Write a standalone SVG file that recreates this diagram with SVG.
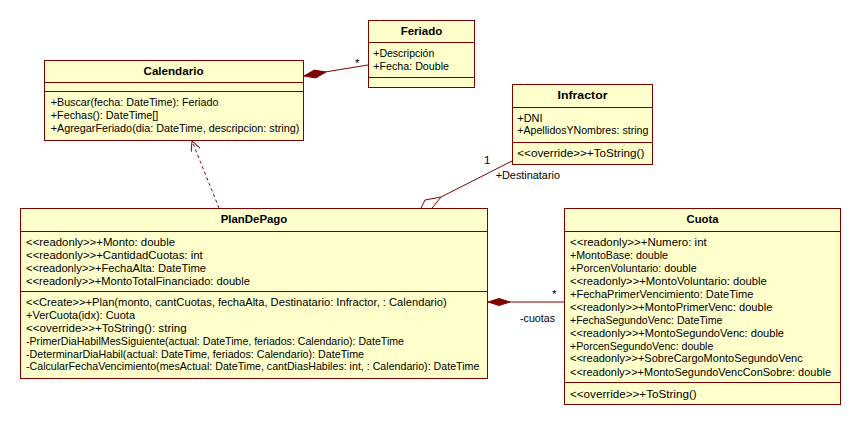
<svg xmlns="http://www.w3.org/2000/svg" width="856" height="426" viewBox="0 0 856 426">
<style>
.box{fill:#FFFFCC;stroke:#800000;stroke-width:1}
.div{stroke:#800000;stroke-width:1}
.t{font-family:"Liberation Sans",Arial,sans-serif;font-size:11.5px;fill:#000}
.b{font-family:"Liberation Sans",Arial,sans-serif;font-size:11.5px;font-weight:bold;fill:#000;text-anchor:middle}
.ln{stroke:#800000;stroke-width:1;fill:none}
.dash{stroke:#800000;stroke-width:1;fill:none;stroke-dasharray:3,3}
.fd{fill:#800000;stroke:#800000;stroke-width:1}
</style>
<defs>
<marker id="open" viewBox="0 0 10 10" refX="10" refY="5" markerWidth="10" markerHeight="10" markerUnits="userSpaceOnUse" orient="auto">
<path d="M0,0 L10,5 L0,10" fill="none" stroke="#800000" stroke-width="1"/>
</marker>
</defs>
<rect width="856" height="426" fill="#fff"/>
<g id="connectors">
<line class="ln" x1="325" y1="72" x2="368" y2="65"/>
<polygon class="fd" points="304,76 314.3,70.1 326,72 315.7,77.9"/>
<text class="t" x="355" y="67">*</text>
<line class="dash" x1="219" y1="208" x2="192" y2="141" marker-end="url(#open)"/>
<line class="ln" x1="512" y1="161" x2="441" y2="197"/>
<polygon class="ln" points="441,197 425,200 419,212 429,212"/>
<text class="t" x="484" y="164">1</text>
<text class="t" x="495.7" y="179" textLength="64.3" lengthAdjust="spacingAndGlyphs">+Destinatario</text>
<line class="ln" x1="509" y1="302" x2="564" y2="302"/>
<polygon class="fd" points="488,302 499,298.5 510,302 499,305.5"/>
<text class="t" x="552" y="298">*</text>
<text class="t" x="520" y="322" textLength="35" lengthAdjust="spacingAndGlyphs">-cuotas</text>
</g>
<g id="Calendario">
<rect class="box" x="44.5" y="60.5" width="259" height="80"/>
<line class="div" x1="44.5" y1="82.5" x2="303.5" y2="82.5"/>
<line class="div" x1="44.5" y1="91.5" x2="303.5" y2="91.5"/>
<text class="b" x="173.5" y="75" textLength="60" lengthAdjust="spacingAndGlyphs">Calendario</text>
<text class="t" x="50.7" y="105.5" textLength="167.7" lengthAdjust="spacingAndGlyphs">+Buscar(fecha: DateTime): Feriado</text>
<text class="t" x="50.7" y="118.5" textLength="107.7" lengthAdjust="spacingAndGlyphs">+Fechas(): DateTime[]</text>
<text class="t" x="50.7" y="131.5" textLength="248.7" lengthAdjust="spacingAndGlyphs">+AgregarFeriado(dia: DateTime, descripcion: string)</text>
</g>
<g id="Feriado">
<rect class="box" x="368.5" y="20.5" width="106" height="67"/>
<line class="div" x1="368.5" y1="42.5" x2="474.5" y2="42.5"/>
<line class="div" x1="368.5" y1="77.5" x2="474.5" y2="77.5"/>
<text class="b" x="421.5" y="35" textLength="41.7" lengthAdjust="spacingAndGlyphs">Feriado</text>
<text class="t" x="373.3" y="56.5" textLength="61" lengthAdjust="spacingAndGlyphs">+Descripción</text>
<text class="t" x="373.3" y="69.5" textLength="75.7" lengthAdjust="spacingAndGlyphs">+Fecha: Double</text>
</g>
<g id="Infractor">
<rect class="box" x="512.5" y="84.5" width="140" height="80"/>
<line class="div" x1="512.5" y1="107.5" x2="652.5" y2="107.5"/>
<line class="div" x1="512.5" y1="142.5" x2="652.5" y2="142.5"/>
<text class="b" x="582.5" y="99" textLength="50" lengthAdjust="spacingAndGlyphs">Infractor</text>
<text class="t" x="517.3" y="121.5" textLength="25.3" lengthAdjust="spacingAndGlyphs">+DNI</text>
<text class="t" x="517.3" y="134" textLength="131" lengthAdjust="spacingAndGlyphs">+ApellidosYNombres: string</text>
<text class="t" x="517.3" y="156.5" textLength="127" lengthAdjust="spacingAndGlyphs">&lt;&lt;override&gt;&gt;+ToString()</text>
</g>
<g id="PlanDePago">
<rect class="box" x="20.5" y="208.5" width="467" height="170"/>
<line class="div" x1="20.5" y1="231.5" x2="487.5" y2="231.5"/>
<line class="div" x1="20.5" y1="291.5" x2="487.5" y2="291.5"/>
<text class="b" x="254" y="223" textLength="66.7" lengthAdjust="spacingAndGlyphs">PlanDePago</text>
<text class="t" x="26" y="245.5" textLength="149" lengthAdjust="spacingAndGlyphs">&lt;&lt;readonly&gt;&gt;+Monto: double</text>
<text class="t" x="26" y="258.5" textLength="176.7" lengthAdjust="spacingAndGlyphs">&lt;&lt;readonly&gt;&gt;+CantidadCuotas: int</text>
<text class="t" x="26" y="271.5" textLength="180" lengthAdjust="spacingAndGlyphs">&lt;&lt;readonly&gt;&gt;+FechaAlta: DateTime</text>
<text class="t" x="26" y="284.5" textLength="224" lengthAdjust="spacingAndGlyphs">&lt;&lt;readonly&gt;&gt;+MontoTotalFinanciado: double</text>
<text class="t" x="26" y="305.5" textLength="420.7" lengthAdjust="spacingAndGlyphs">&lt;&lt;Create&gt;&gt;+Plan(monto, cantCuotas, fechaAlta, Destinatario: Infractor, : Calendario)</text>
<text class="t" x="26" y="318.5" textLength="109" lengthAdjust="spacingAndGlyphs">+VerCuota(idx): Cuota</text>
<text class="t" x="26" y="331.5" textLength="160.7" lengthAdjust="spacingAndGlyphs">&lt;&lt;override&gt;&gt;+ToString(): string</text>
<text class="t" x="26" y="344.5" textLength="378" lengthAdjust="spacingAndGlyphs">-PrimerDiaHabilMesSiguiente(actual: DateTime, feriados: Calendario): DateTime</text>
<text class="t" x="26" y="357.5" textLength="338" lengthAdjust="spacingAndGlyphs">-DeterminarDiaHabil(actual: DateTime, feriados: Calendario): DateTime</text>
<text class="t" x="26" y="370" textLength="453.3" lengthAdjust="spacingAndGlyphs">-CalcularFechaVencimiento(mesActual: DateTime, cantDiasHabiles: int, : Calendario): DateTime</text>
</g>
<g id="Cuota">
<rect class="box" x="564.5" y="208.5" width="276" height="196"/>
<line class="div" x1="564.5" y1="231.5" x2="840.5" y2="231.5"/>
<line class="div" x1="564.5" y1="382.5" x2="840.5" y2="382.5"/>
<text class="b" x="702.5" y="223" textLength="32" lengthAdjust="spacingAndGlyphs">Cuota</text>
<text class="t" x="570" y="245.5" textLength="136.7" lengthAdjust="spacingAndGlyphs">&lt;&lt;readonly&gt;&gt;+Numero: int</text>
<text class="t" x="570" y="258.5" textLength="98" lengthAdjust="spacingAndGlyphs">+MontoBase: double</text>
<text class="t" x="570" y="271.5" textLength="126.7" lengthAdjust="spacingAndGlyphs">+PorcenVoluntario: double</text>
<text class="t" x="570" y="284.5" textLength="196.7" lengthAdjust="spacingAndGlyphs">&lt;&lt;readonly&gt;&gt;+MontoVoluntario: double</text>
<text class="t" x="570" y="297.5" textLength="183.3" lengthAdjust="spacingAndGlyphs">+FechaPrimerVencimiento: DateTime</text>
<text class="t" x="570" y="310.5" textLength="202.3" lengthAdjust="spacingAndGlyphs">&lt;&lt;readonly&gt;&gt;+MontoPrimerVenc: double</text>
<text class="t" x="570" y="323.5" textLength="152.3" lengthAdjust="spacingAndGlyphs">+FechaSegundoVenc: DateTime</text>
<text class="t" x="570" y="336.5" textLength="214" lengthAdjust="spacingAndGlyphs">&lt;&lt;readonly&gt;&gt;+MontoSegundoVenc: double</text>
<text class="t" x="570" y="349.5" textLength="143.3" lengthAdjust="spacingAndGlyphs">+PorcenSegundoVenc: double</text>
<text class="t" x="570" y="362" textLength="232.7" lengthAdjust="spacingAndGlyphs">&lt;&lt;readonly&gt;&gt;+SobreCargoMontoSegundoVenc</text>
<text class="t" x="570" y="375.5" textLength="261" lengthAdjust="spacingAndGlyphs">&lt;&lt;readonly&gt;&gt;+MontoSegundoVencConSobre: double</text>
<text class="t" x="570" y="397.5" textLength="126.7" lengthAdjust="spacingAndGlyphs">&lt;&lt;override&gt;&gt;+ToString()</text>
</g>
</svg>
